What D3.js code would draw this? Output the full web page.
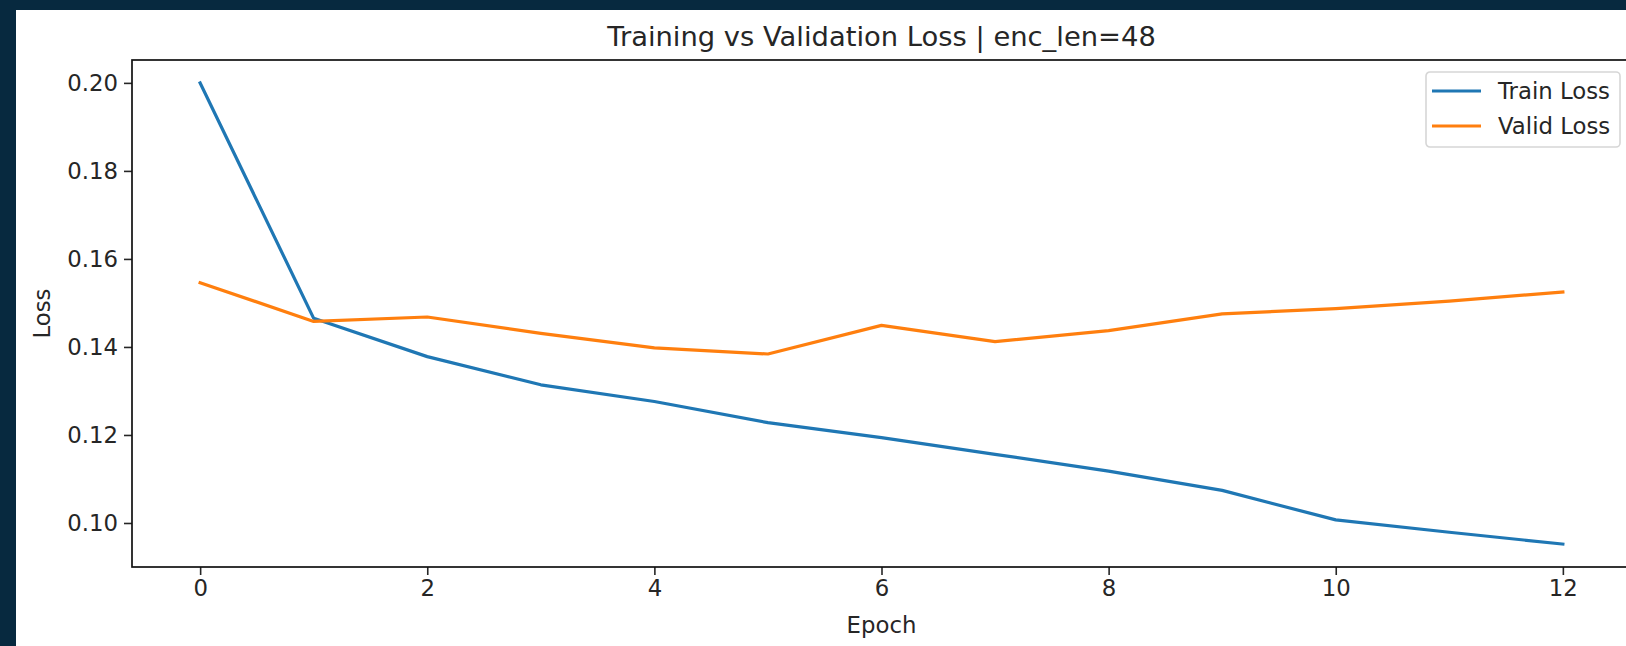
<html>
<head>
    <meta charset="utf-8">
    <script src="https://d3js.org/d3.v7.min.js"></script>
    <style>
        body { margin: 0; background: #07293f; overflow: hidden; }
        text { font-family: "DejaVu Sans", sans-serif; fill: #262626; }
    </style>
</head>
<body>
    <div id="my_dataviz"></div>
</body>
<script>

    // data
    var epochs = [0, 1, 2, 3, 4, 5, 6, 7, 8, 9, 10, 11, 12];
    var trainLoss = [0.2000, 0.1465, 0.1378, 0.1314, 0.1276, 0.1228, 0.1194, 0.1156, 0.1118, 0.1074, 0.1007, 0.0979, 0.0952];
    var validLoss = [0.1546, 0.1458, 0.1468, 0.1431, 0.1398, 0.1384, 0.1449, 0.1412, 0.1437, 0.1475, 0.1487, 0.1504, 0.1525];
    var xTicks = [0, 2, 4, 6, 8, 10, 12];
    var yTicks = [0.10, 0.12, 0.14, 0.16, 0.18, 0.20];
    var seriesNames = ["Train Loss", "Valid Loss"];
    var seriesColors = ["#1f77b4", "#ff7f0e"];

    var W = 1626, H = 646;
    var margin = { top: 60, left: 132, right: -5, bottom: 79 };
    var width = W - margin.left - margin.right,
        height = H - margin.top - margin.bottom;
    var fs = 22.8; // base font size

    var root = d3.select("#my_dataviz")
        .append("svg")
        .attr("width", W)
        .attr("height", H);

    // dark frame + white figure area
    root.append("rect").attr("width", W).attr("height", H).attr("fill", "#07293f");
    root.append("rect").attr("x", 16).attr("y", 10).attr("width", W - 16).attr("height", H - 10).attr("fill", "#ffffff");

    var svg = root.append("g")
        .attr("transform", "translate(" + margin.left + "," + margin.top + ")");

    // scales (matplotlib-style 5% margins)
    var x = d3.scaleLinear().domain([-0.6, 12.6]).range([0, width]);
    var y = d3.scaleLinear().domain([0.0900, 0.2052]).range([height, 0]);

    // axes
    var xAxis = svg.append("g")
        .attr("transform", "translate(0," + height + ")")
        .call(d3.axisBottom(x).tickValues(xTicks).tickFormat(d3.format("d")).tickSize(8).tickPadding(5));
    var yAxis = svg.append("g")
        .call(d3.axisLeft(y).tickValues(yTicks).tickFormat(d3.format(".2f")).tickSize(8).tickPadding(6));

    [xAxis, yAxis].forEach(function (a) {
        a.select(".domain").remove();
        a.selectAll(".tick line").attr("stroke", "#262626").attr("stroke-width", 1.6);
        a.selectAll(".tick text").style("font-size", fs + "px").attr("fill", "#262626")
            .style("font-family", "'DejaVu Sans', sans-serif");
    });

    // lines
    var line = d3.line()
        .x(function (d) { return x(d.epoch); })
        .y(function (d) { return y(d.value); });

    [trainLoss, validLoss].forEach(function (vals, i) {
        var pts = epochs.map(function (e, j) { return { epoch: e, value: vals[j] }; });
        svg.append("path")
            .datum(pts)
            .attr("fill", "none")
            .attr("stroke", seriesColors[i])
            .attr("stroke-width", 3.2)
            .attr("stroke-linejoin", "round")
            .attr("stroke-linecap", "square")
            .attr("d", line);
    });

    // spines
    svg.append("rect")
        .attr("width", width)
        .attr("height", height)
        .attr("fill", "none")
        .attr("stroke", "#111")
        .attr("stroke-width", 1.7);

    // title and axis labels
    svg.append("text")
        .attr("x", width / 2)
        .attr("y", -14)
        .attr("text-anchor", "middle")
        .style("font-size", (fs * 1.2) + "px")
        .text("Training vs Validation Loss | enc_len=48");

    svg.append("text")
        .attr("x", width / 2)
        .attr("y", height + 66)
        .attr("text-anchor", "middle")
        .style("font-size", fs + "px")
        .text("Epoch");

    svg.append("text")
        .attr("transform", "translate(" + (-82) + "," + (height / 2) + ") rotate(-90)")
        .attr("text-anchor", "middle")
        .style("font-size", fs + "px")
        .text("Loss");

    // legend
    var legend = root.append("g").attr("transform", "translate(1426,72)");
    legend.append("rect")
        .attr("width", 194)
        .attr("height", 75)
        .attr("rx", 4)
        .attr("fill", "#ffffff")
        .attr("fill-opacity", 0.8)
        .attr("stroke", "#d6d6d6")
        .attr("stroke-width", 1.6);

    seriesNames.forEach(function (name, i) {
        var g = legend.append("g").attr("transform", "translate(0," + (19 + i * 35) + ")");
        g.append("line")
            .attr("x1", 6).attr("x2", 55)
            .attr("stroke", seriesColors[i])
            .attr("stroke-width", 3.2);
        g.append("text")
            .attr("x", 72)
            .attr("y", 8)
            .style("font-size", fs + "px")
            .text(name);
    });

</script>
</html>
